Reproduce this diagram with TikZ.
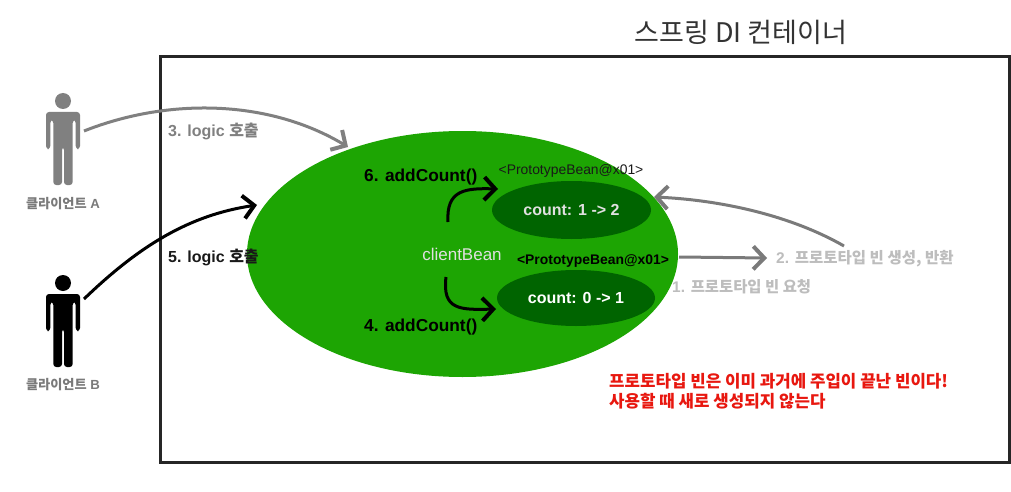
\documentclass[tikz,border=0pt]{standalone}
\usepackage{fontspec}
\setmainfont{Liberation Sans}
\newfontfamily\kr{Noto Sans CJK KR}
\usetikzlibrary{arrows.meta,shapes.geometric}
\definecolor{maing}{HTML}{1DA503}
\definecolor{darkg}{HTML}{006400}
\definecolor{gA}{HTML}{808080}
\definecolor{gL}{HTML}{BDBDBD}
\definecolor{gM}{HTML}{7A7A7A}
\definecolor{redt}{HTML}{E8170F}
\newcommand{\fsz}[1]{\fontsize{#1}{#1}\selectfont}
\tikzset{
  x=1pt,y=-1pt,
  lbl/.style={inner sep=0pt,anchor=west,font=\fsz{#1}\bfseries},
  arr/.style={line width=3pt,-{Straight Barb[length=11pt,width=23pt,line width=4pt]}},
  pers/.pic={
    \fill (0,-9) circle (8);
    \fill[rounded corners=3pt] (-17,2) -- (17,2) -- (17,39) -- (12.7,39) -- (12.7,10) -- (9.7,10) -- (9.7,75) -- (1,75) -- (1,37) -- (-1,37) -- (-1,75) -- (-9.7,75) -- (-9.7,10) -- (-12.7,10) -- (-12.7,39) -- (-17,39) -- cycle;
  }
}
\begin{document}
\begin{tikzpicture}
\useasboundingbox (0,0) rectangle (1011,492);
\fill[white] (0,0) rectangle (1011,492);
\node[draw=black!85,line width=3pt,minimum width=849pt,minimum height=405pt,inner sep=0pt] (box) at (584.5,259.5) {};
\node[inner sep=0pt,font=\fsz{27}\kr,text=black!80] (title) at (741,32) {스프링 DI 컨테이너};
\node[fill=maing,ellipse,minimum width=431pt,minimum height=246pt,inner sep=0pt] (client) at (462.5,254) {};
\node[fill=darkg,ellipse,minimum width=159pt,minimum height=58pt,inner sep=0pt,text=white!88!black,font=\fsz{16}\bfseries] (beanA) at (571.5,210) {count: 1 -> 2};
\node[fill=darkg,ellipse,minimum width=158pt,minimum height=56pt,inner sep=0pt,text=white,font=\fsz{16}\bfseries] (beanB) at (576,298) {count: 0 -> 1};
\node[inner sep=0pt,text=white!88!black,font=\fsz{17}] (cb) at (462,254) {clientBean};
\node[inner sep=0pt,font=\fsz{13.9},text=black!90] (hdA) at (571,171) {<PrototypeBean@x01>};
\node[inner sep=0pt,font=\fsz{13.9}\bfseries,text=black] (hdB) at (593,261) {<PrototypeBean@x01>};
\node[lbl=17.3] (six) at (364,177) {6. addCount()};
\node[lbl=17.3] (four) at (364,327) {4. addCount()};
\node[lbl=16,text=gA] (l3) at (168,131) {3. logic {\kr 호출}};
\node[lbl=16,text=black!90] (l5) at (168,257) {5. logic {\kr 호출}};
\node[lbl=15.4,text=gL] (l1) at (672,287) {1. {\kr 프로토타입 빈 요청}};
\node[lbl=15.5,text=gL] (l2) at (776,259) {2. {\kr 프로토타입 빈 생성, 반환}};
\node[lbl=16,text=redt,align=left,font=\fsz{16.8}\bfseries\kr] (note) at (609,391) {프로토타입 빈은 이미 과거에 주입이 끝난 빈이다!\\[3pt]사용할 때 새로 생성되지 않는다};
\pic[gA] at (63,110) {pers};
\pic[black] at (63,292) {pers};
\node[lbl=13.2,anchor=center,text=gM] (ca) at (63,204) {{\kr 클라이언트} A};
\node[lbl=13.2,anchor=center,text=gM] (cbb) at (63,385) {{\kr 클라이언트} B};
\coordinate (pa) at (84,131);
\coordinate (pb) at (84,299);
\coordinate (ea) at (348,147);
\coordinate (eb) at (257,205);
\coordinate (s6) at (448,222);
\coordinate (e6) at (498,189);
\coordinate (s4) at (446,277);
\coordinate (e4) at (496,309);
\coordinate (o1) at (679,257);
\coordinate (o2) at (767,258);
\coordinate (r1) at (844,246);
\coordinate (r2) at (654,197);
\draw[arr,gA] (pa) .. controls (170,97) and (270,100) .. (ea);
\draw[arr,black] (pb) .. controls (140,245) and (190,215) .. (eb);
\draw[arr,black] (s6) .. controls (446,190) and (465,188) .. (e6);
\draw[arr,black] (s4) .. controls (442,310) and (460,310) .. (e4);
\draw[arr,gM] (o1) -- (o2);
\draw[arr,gM] (r1) .. controls (790,215) and (720,200) .. (r2);
\end{tikzpicture}
\end{document}
